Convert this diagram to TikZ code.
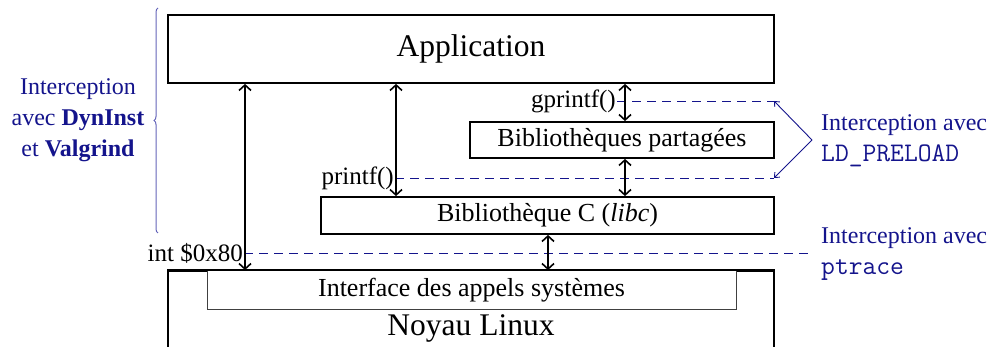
\documentclass[tikz,border=0pt]{standalone}
\usepackage{fontspec}
\setmainfont{Liberation Serif}
\usetikzlibrary{arrows.meta,decorations.pathreplacing}
\definecolor{myblue}{RGB}{20,20,140}
\definecolor{bracecol}{RGB}{100,100,185}
\newcommand{\mytt}[1]{{\fontsize{26.8}{31}\selectfont\ttfamily #1}}
\begin{document}
\begin{tikzpicture}[x=1pt,y=-1pt,
  box/.style={draw=black,line width=1.8pt,inner sep=0pt,font=\fontsize{26}{30}\selectfont},
  bigbox/.style={box,font=\fontsize{31.5}{36}\selectfont},
  ifbox/.style={draw=black!75,line width=1pt,inner sep=0pt,fill=white,font=\fontsize{26}{30}\selectfont},
  dbl/.style={line width=1.6pt,{Straight Barb[length=5.5pt,width=12pt]}-{Straight Barb[length=5.5pt,width=12pt]}},
  fn/.style={inner sep=1pt,font=\fontsize{25}{30}\selectfont},
  dsh/.style={myblue,line width=0.9pt,dash pattern=on 9pt off 6pt},
  lbl/.style={myblue,inner sep=0pt,font=\fontsize{24}{31}\selectfont},
  ldarrow/.style={myblue,line width=0.9pt,-{Straight Barb[length=4pt,width=7pt]}}
]
\useasboundingbox (0,0) rectangle (994,347);
\clip (0,0) rectangle (994,347);

% boxes
\node[bigbox,minimum width=606pt,minimum height=68pt] (app) at (471,49) {Application};
\node[box,minimum width=304pt,minimum height=36pt] (shlib) at (622,140) {Biblioth\`eques partag\'ees};
\node[box,minimum width=453pt,minimum height=37pt] (libc) at (547.5,215.5) {Biblioth\`eque C (\textit{libc})};
\node[bigbox,minimum width=606pt,minimum height=114pt] (kernel) at (471,328) {Noyau Linux};
\node[ifbox,minimum width=529pt,minimum height=39pt] (sysif) at (471.5,290.5) {Interface des appels syst\`emes};
\draw[line width=1.8pt] (kernel.north west) -- (kernel.north east);

% function labels
\node[fn,anchor=east] (gp) at (617,101) {gprintf()};
\node[fn,anchor=east] (pf) at (395,178) {printf()};
\node[fn,anchor=east] (int) at (244,253) {int \$0x80};

% dashed interception lines
\coordinate (gpend) at (774,101);
\coordinate (pfend) at (774,178);
\coordinate (intend) at (810,253);
\draw[dsh] (gp.east) -- (gpend);
\draw[dsh] (pf.east) -- (pfend);
\draw[dsh] (int.east) -- (intend);

% vertical arrows
\coordinate (xa) at (245,0);
\coordinate (xb) at (396,0);
\coordinate (xc) at (625,0);
\coordinate (xd) at (548,0);
\draw[dbl] (app.south -| xa) -- (kernel.north -| xa);
\draw[dbl] (app.south -| xb) -- (libc.north -| xb);
\draw[dbl] (app.south -| xc) -- (shlib.north -| xc);
\draw[dbl] (shlib.south -| xc) -- (libc.north -| xc);
\draw[dbl] (libc.south -| xd) -- (kernel.north -| xd);

% LD_PRELOAD
\coordinate (ldv) at (812,140);
\draw[ldarrow] (ldv) -- (gpend);
\draw[ldarrow] (ldv) -- (pfend);
\node[lbl,anchor=west,align=left] (ldtext) at (821,141) {Interception avec\\\mytt{LD\_PRELOAD}};
\node[lbl,anchor=west,align=left] (pttext) at (821,254) {Interception avec\\\mytt{ptrace}};

% left brace
\draw[bracecol,line width=1pt,decorate,decoration={brace,amplitude=4pt}] (158,233) -- (158,8);
\node[lbl,align=center] (lefttext) at (78,120) {Interception\\avec \textbf{DynInst}\\et \textbf{Valgrind}};
\end{tikzpicture}
\end{document}
